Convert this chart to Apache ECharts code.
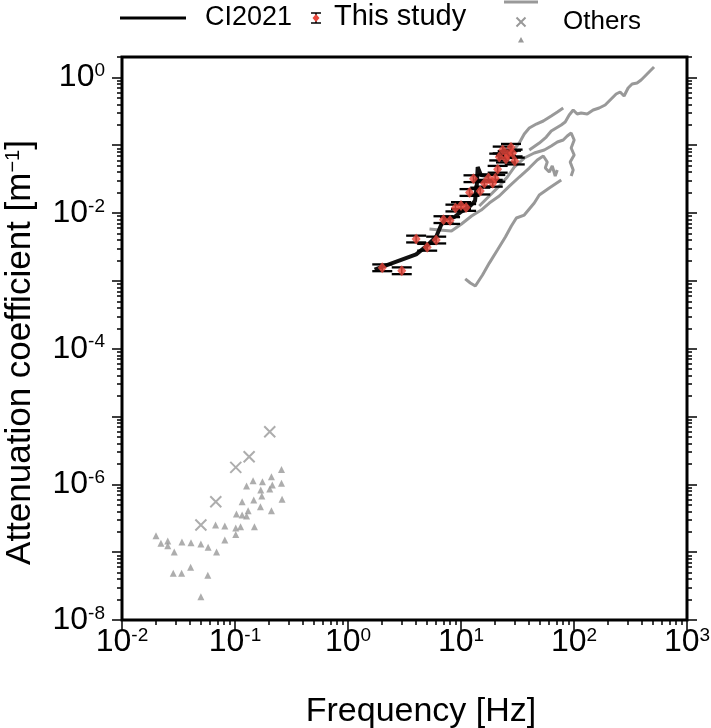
<!DOCTYPE html>
<html>
<head>
<meta charset="utf-8">
<script src="https://cdn.jsdelivr.net/npm/echarts@6/dist/echarts.min.js"></script>
<style>
html,body{margin:0;padding:0;background:#fff;}
#chart{width:711px;height:728px;}
</style>
</head>
<body>
<div id="chart"></div>
<script>
// ---------------- DATA ----------------
const xTickExponents = [-2, -1, 0, 1, 2, 3];
const yTickExponents = [-8, -6, -4, -2, 0];

// CI2021 model curve
const ci2021Freq  = [1.72, 4.01, 5.08, 6.03, 6.67, 7.28, 8.75, 10.1, 11.9, 13.3, 13.8, 14.05, 15.0, 17.8];
const ci2021Atten = [1.47e-3, 2.46e-3, 3.38e-3, 4.48e-3, 6.67e-3, 8.17e-3, 8.74e-3, 0.01054, 0.01248, 0.01506, 0.0259, 0.0477, 0.0364, 0.0352];

// This study (points + error in decades)
const studyFreq  = [2.01, 2.99, 4.01, 5.02, 6.03, 7.0, 8.0, 8.93, 10.0, 11.1, 11.9, 14.8, 12.9, 16.1, 19.1, 20.1, 17.5, 21.1, 29.9, 23.4, 25.9, 27.7, 28.6, 25.0, 21.8];
const studyAtten = [1.56e-3, 1.41e-3, 4.14e-3, 3.13e-3, 4.0e-3, 8.0e-3, 7.76e-3, 0.01186, 0.0129, 0.0121, 0.0201, 0.0211, 0.0321, 0.0275, 0.0275, 0.0325, 0.0329, 0.0442, 0.0585, 0.0851, 0.0730, 0.0932, 0.0768, 0.0626, 0.067];
const studyErrDex = [0.05, 0.05, 0.05, 0.05, 0.05, 0.05, 0.05, 0.05, 0.05, 0.05, 0.05, 0.05, 0.05, 0.05, 0.05, 0.05, 0.05, 0.05, 0.05, 0.05, 0.05, 0.05, 0.05, 0.05, 0.05];

// Others: curves
const others1Freq  = [10.9, 12.1, 13.4, 15.5, 17.8, 21.0, 24.7, 27.9, 30.9, 36.3, 44.5, 49.3, 60.4, 77.1];
const others1Atten = [1.07e-3, 9.3e-4, 8.4e-4, 1.22e-3, 1.83e-3, 2.85e-3, 4.43e-3, 6.44e-3, 8.45e-3, 9.35e-3, 0.01406, 0.01845, 0.0234, 0.0307];

const others2Freq  = [5.26, 6.44, 8.23, 10.1, 12.4, 15.1, 17.8, 21.8, 26.8, 32.8, 40.2, 47.3, 53.5, 58.0, 55.7, 60.4, 64.2, 68.2, 71.1];
const others2Atten = [5.82e-3, 5.62e-3, 5.43e-3, 6.89e-3, 9.04e-3, 0.01109, 0.01406, 0.01782, 0.0250, 0.0340, 0.0461, 0.0605, 0.0693, 0.0566, 0.0461, 0.0403, 0.0494, 0.0352, 0.0431];

const others3Freq  = [26.8, 30.2, 32.8, 36.3, 40.2, 46.4, 53.5, 62.9, 71.3, 80.3];
const others3Atten = [0.0693, 0.0910, 0.1078, 0.1464, 0.1795, 0.2056, 0.2277, 0.2698, 0.309, 0.354];

const others4Freq  = [40.2, 49.3, 56.8, 62.9, 69.6, 77.1, 83.6, 90.7, 98.4, 106.7, 115.8, 130.9, 147.8, 167.0, 188.7, 213.2, 236.0, 255.8, 277.4, 301.2, 326.6, 361.5, 392.4, 434.5, 471.0, 510.9];
const others4Atten = [0.0851, 0.1078, 0.1321, 0.162, 0.1795, 0.1987, 0.2199, 0.279, 0.3306, 0.2885, 0.2986, 0.2885, 0.3306, 0.354, 0.392, 0.481, 0.569, 0.609, 0.532, 0.698, 0.799, 0.826, 0.916, 1.085, 1.243, 1.423];

const others5Freq  = [14.5, 17.8, 21.8, 25.7, 29.6, 36.3, 44.5, 54.6, 62.9, 71.3, 80.3, 87.1, 94.4, 100.4, 94.4, 100.4, 92.5, 98.4, 94.4];
const others5Atten = [0.01270, 0.01782, 0.0250, 0.0340, 0.0477, 0.0648, 0.0768, 0.0851, 0.0974, 0.1115, 0.1194, 0.1368, 0.1514, 0.1194, 0.0910, 0.0718, 0.0566, 0.0431, 0.0352];

// Others: discrete points
const othersCrossFreq  = [0.203, 0.1334, 0.1016, 0.0676, 0.0499];
const othersCrossAtten = [5.97e-6, 2.55e-6, 1.78e-6, 5.54e-7, 2.51e-7];

const othersTriFreq  = [0.258, 0.210, 0.175, 0.1445, 0.1265, 0.258, 0.214, 0.169, 0.203, 0.1726, 0.1466, 0.1156, 0.261, 0.168, 0.1306, 0.103, 0.1156, 0.1265, 0.210, 0.112, 0.1016, 0.1486, 0.1016, 0.0813, 0.0813, 0.0673, 0.0200, 0.0221, 0.0254, 0.0254, 0.0290, 0.0339, 0.0408, 0.0499, 0.0578, 0.0687, 0.0284, 0.0337, 0.0405, 0.0575, 0.0499];
const othersTriAtten = [1.66e-6, 1.29e-6, 1.09e-6, 1.13e-6, 9.45e-7, 1.04e-6, 9.77e-7, 8.24e-7, 8.53e-7, 6.73e-7, 5.87e-7, 5.54e-7, 6.01e-7, 4.68e-7, 4.08e-7, 3.65e-7, 3.53e-7, 3.41e-7, 4.08e-7, 2.37e-7, 2.27e-7, 2.37e-7, 1.83e-7, 1.51e-7, 2.43e-7, 2.51e-7, 1.75e-7, 1.35e-7, 1.46e-7, 1.24e-7, 1.01e-7, 1.41e-7, 1.38e-7, 1.32e-7, 1.18e-7, 1.01e-7, 4.88e-8, 4.88e-8, 5.97e-8, 4.56e-8, 2.20e-8];

// ---------------- HELPERS ----------------
const L = Math.log10;
const FONT = 'Liberation Sans, Arial, Helvetica, sans-serif';
const GRAY = '#999999';
const RED = '#e8473c';
function pairs(fx, fy) { return fx.map((f, i) => [L(f), L(fy[i])]); }

const X_MIN = -2, X_MAX = 3;
const Y_MIN = -8, Y_MAX = L(2);

function minorTicks(lo, hi) {
  const out = [];
  for (let n = Math.floor(lo) - 1; n <= Math.ceil(hi); n++) {
    for (let k = 2; k <= 9; k++) {
      const v = n + L(k);
      if (v >= lo - 1e-9 && v <= hi + 1e-9) out.push(v);
    }
  }
  return out;
}
function majorTicks(lo, hi) {
  const out = [];
  for (let n = Math.ceil(lo); n <= Math.floor(hi); n++) out.push(n);
  return out;
}

const labelRich = {
  b: { fontSize: 32, fontFamily: FONT, color: '#000' },
  s: { fontSize: 19, fontFamily: FONT, color: '#000', verticalAlign: 'top' }
};
function expLabel(v) {
  const n = Math.round(v);
  return '{b|10}{s|' + n + '}';
}

function xAxisDef(kind) {
  const major = kind === 'major';
  return {
    type: 'value', min: X_MIN, max: X_MAX, position: 'bottom', offset: 0,
    axisLine: { show: false, onZero: false },
    splitLine: { show: false },
    axisTick: {
      show: true, inside: false, length: major ? 10 : 5,
      lineStyle: { color: '#000', width: 1.5 },
      customValues: major ? majorTicks(X_MIN, X_MAX) : minorTicks(X_MIN, X_MAX)
    },
    axisLabel: major ? {
      show: true, margin: 6, formatter: expLabel, rich: labelRich,
      customValues: xTickExponents
    } : { show: false },
    name: major ? 'Frequency [Hz]' : '',
    nameLocation: 'middle', nameGap: 75, nameMoveOverlap: false,
    nameTextStyle: { fontSize: 34, fontFamily: FONT, color: '#000', padding: [0, 0, 0, 33] }
  };
}
function yAxisDef(kind, pos) {
  const major = kind === 'major';
  const left = pos === 'left';
  return {
    type: 'value', min: Y_MIN, max: Y_MAX, position: pos, offset: 0,
    axisLine: { show: false, onZero: false },
    splitLine: { show: false },
    axisTick: {
      show: true, inside: false, length: major ? 10 : 5,
      lineStyle: { color: '#000', width: 1.5 },
      customValues: major ? majorTicks(Y_MIN, Y_MAX) : minorTicks(Y_MIN, Y_MAX)
    },
    axisLabel: (major && left) ? {
      show: true, margin: 17, formatter: expLabel, rich: labelRich,
      customValues: yTickExponents
    } : { show: false },
    name: (major && left) ? 'Attenuation coefficient [m{s|−1}]' : '',
    nameLocation: 'middle', nameGap: 84, nameRotate: 90, nameMoveOverlap: false,
    nameTextStyle: {
      fontSize: 35, fontFamily: FONT, color: '#000', padding: [0, 28, 0, 0],
      rich: { s: { fontSize: 20, fontFamily: FONT, color: '#000', verticalAlign: 'top' } }
    }
  };
}

const grayLine = (fx, fy) => ({
  type: 'line', data: pairs(fx, fy), showSymbol: false, silent: true,
  lineStyle: { color: GRAY, width: 3 }, z: 2, animation: false
});

const studyBars = studyFreq.map((f, i) => [L(f), L(studyAtten[i]) - studyErrDex[i], L(studyAtten[i]) + studyErrDex[i]]);

const chart = echarts.init(document.getElementById('chart'), null, { renderer: 'canvas' });
chart.setOption({
  animation: false,
  backgroundColor: '#fff',
  grid: {
    left: 122, right: 24, top: 57, bottom: 108, containLabel: false, outerBoundsMode: 'none',
    show: true, borderColor: '#000', borderWidth: 3, backgroundColor: 'transparent'
  },
  xAxis: [xAxisDef('major'), xAxisDef('minor')],
  yAxis: [yAxisDef('major', 'left'), yAxisDef('minor', 'left'), yAxisDef('major', 'right'), yAxisDef('minor', 'right')],
  series: [
    grayLine(others1Freq, others1Atten),
    grayLine(others2Freq, others2Atten),
    grayLine(others3Freq, others3Atten),
    grayLine(others4Freq, others4Atten),
    grayLine(others5Freq, others5Atten),
    {
      name: 'Others', type: 'scatter', data: pairs(othersCrossFreq, othersCrossAtten),
      symbol: 'path://M0,0L10,10M10,0L0,10', symbolSize: 11,
      itemStyle: { color: 'rgba(0,0,0,0)', borderColor: GRAY, borderWidth: 2 }, z: 3
    },
    {
      name: 'Others tri', type: 'scatter', data: pairs(othersTriFreq, othersTriAtten),
      symbol: 'triangle', symbolSize: 7, itemStyle: { color: GRAY }, z: 3
    },
    {
      name: 'CI2021', type: 'line', data: pairs(ci2021Freq, ci2021Atten), showSymbol: false,
      lineStyle: { color: '#111', width: 4 }, z: 4
    },
    {
      name: 'This study err', type: 'custom', data: studyBars, z: 5,
      encode: { x: 0, y: [1, 2] },
      renderItem: function (params, api) {
        const x = api.value(0);
        const pLo = api.coord([x, api.value(1)]);
        const pHi = api.coord([x, api.value(2)]);
        const w = 10;
        const st = { stroke: '#000', lineWidth: 2.3 };
        return {
          type: 'group', children: [
            { type: 'line', shape: { x1: pLo[0], y1: pLo[1], x2: pHi[0], y2: pHi[1] }, style: { stroke: '#000', lineWidth: 1.5 } },
            { type: 'line', shape: { x1: pLo[0] - w, y1: pLo[1], x2: pLo[0] + w, y2: pLo[1] }, style: st },
            { type: 'line', shape: { x1: pHi[0] - w, y1: pHi[1], x2: pHi[0] + w, y2: pHi[1] }, style: st }
          ]
        };
      }
    },
    {
      name: 'This study', type: 'scatter', data: pairs(studyFreq, studyAtten),
      symbol: 'diamond', symbolSize: [9, 11], itemStyle: { color: RED }, z: 6
    }
  ],
  graphic: [
    { type: 'line', shape: { x1: 120, y1: 18, x2: 186, y2: 18 }, style: { stroke: '#000', lineWidth: 3 } },
    { type: 'text', x: 205, y: 18, style: { text: 'CI2021', font: '27px ' + FONT, fill: '#000', verticalAlign: 'middle' } },
    { type: 'line', shape: { x1: 316, y1: 13, x2: 316, y2: 23 }, style: { stroke: '#000', lineWidth: 1.5 } },
    { type: 'line', shape: { x1: 311, y1: 13, x2: 321, y2: 13 }, style: { stroke: '#000', lineWidth: 1.5 } },
    { type: 'line', shape: { x1: 311, y1: 23, x2: 321, y2: 23 }, style: { stroke: '#000', lineWidth: 1.5 } },
    { type: 'polygon', shape: { points: [[316, 14], [319.5, 18], [316, 22], [312.5, 18]] }, style: { fill: RED } },
    { type: 'text', x: 334, y: 17, style: { text: 'This study', font: '29px ' + FONT, fill: '#000', verticalAlign: 'middle' } },
    { type: 'line', shape: { x1: 504, y1: 2, x2: 538, y2: 2 }, style: { stroke: GRAY, lineWidth: 3 } },
    { type: 'line', shape: { x1: 516.5, y1: 17.5, x2: 525.5, y2: 26.5 }, style: { stroke: GRAY, lineWidth: 2 } },
    { type: 'line', shape: { x1: 525.5, y1: 17.5, x2: 516.5, y2: 26.5 }, style: { stroke: GRAY, lineWidth: 2 } },
    { type: 'polygon', shape: { points: [[521, 37], [524, 42.5], [518, 42.5]] }, style: { fill: GRAY } },
    { type: 'text', x: 563, y: 22, style: { text: 'Others', font: '26px ' + FONT, fill: '#000', verticalAlign: 'middle' } }
  ]
});
</script>
</body>
</html>
